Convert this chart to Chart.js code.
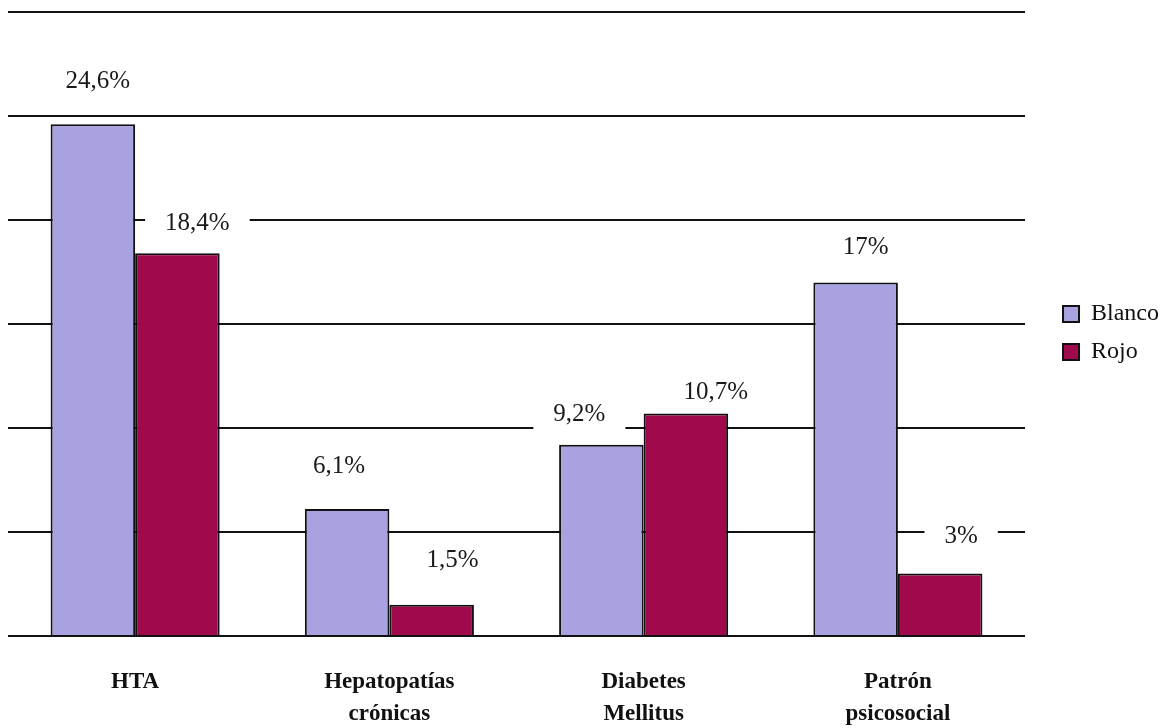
<!DOCTYPE html>
<html>
<head>
<meta charset="utf-8">
<script src="https://cdn.jsdelivr.net/npm/chart.js@4/dist/chart.umd.min.js"></script>
<style>
  html, body { margin: 0; padding: 0; background: #fff; }
  #wrap { width: 1167px; height: 728px; position: relative; }
</style>
</head>
<body>
<div id="wrap"><canvas id="c" width="1167" height="728"></canvas></div>
<script>
// ---- data ----
const categories = [["HTA"], ["Hepatopatías", "crónicas"], ["Diabetes", "Mellitus"], ["Patrón", "psicosocial"]];
const seriesNames = ["Blanco", "Rojo"];
const blanco = [24.6, 6.1, 9.2, 17];
const rojo = [18.4, 1.5, 10.7, 3];
const blancoLabels = ["24,6%", "6,1%", "9,2%", "17%"];
const rojoLabels = ["18,4%", "1,5%", "10,7%", "3%"];
const yMax = 30;
const yStep = 5;

// label placement nudges (style, relative to bar top)
const labelNudge = [
  [{dx: 5, dy: 43}, {dx: -8, dy: 43}, {dx: -22, dy: 30}, {dx: 10, dy: 35}],
  [{dx: 20, dy: 30}, {dx: 21, dy: 44}, {dx: 30, dy: 21}, {dx: 21, dy: 37}]
];
const labelTexts = [blancoLabels, rojoLabels];
const serif = '"Liberation Serif", "DejaVu Serif", serif';

const labelPlugin = {
  id: 'boxLabels',
  afterLayout(chart) {
    const lg = chart.legend;
    if (lg) {
      lg.left += 24; lg.right += 24;
      lg.top -= 37; lg.bottom -= 37;
    }
  },
  afterDatasetsDraw(chart) {
    const ctx = chart.ctx;
    ctx.save();
    ctx.font = '25px ' + serif;
    ctx.textAlign = 'center';
    ctx.textBaseline = 'middle';
    chart.data.datasets.forEach((ds, di) => {
      const meta = chart.getDatasetMeta(di);
      meta.data.forEach((bar, i) => {
        const n = labelNudge[di][i];
        const x = bar.x + n.dx;
        const y = bar.y - n.dy;
        const t = labelTexts[di][i];
        const w = ctx.measureText(t).width;
        ctx.fillStyle = '#ffffff';
        ctx.fillRect(x - w / 2 - 20, y - 16, w + 40, 32);
        ctx.fillStyle = '#1a1a1a';
        ctx.fillText(t, x, y);
      });
    });
    ctx.restore();
  }
};

new Chart(document.getElementById('c'), {
  type: 'bar',
  data: {
    labels: categories,
    datasets: [
      { label: seriesNames[0], data: blanco, backgroundColor: '#a9a2e0', borderColor: '#111', borderWidth: 2 },
      { label: seriesNames[1], data: rojo, backgroundColor: '#a0094b', borderColor: '#111', borderWidth: 2 }
    ]
  },
  options: {
    responsive: false,
    animation: false,
    devicePixelRatio: 1,
    layout: { padding: { left: 8, top: 12, right: 22, bottom: 0 } },
    datasets: { bar: { categoryPercentage: 0.665, barPercentage: 1.0 } },
    scales: {
      x: {
        grid: { display: false, drawTicks: false },
        border: { display: false },
        afterFit(scale) { scale.height = 92; },
        ticks: {
          color: '#111',
          padding: 30,
          maxRotation: 0,
          font: { family: serif, size: 23, weight: 'bold', lineHeight: 1.4 }
        }
      },
      y: {
        min: 0, max: yMax,
        ticks: { display: false, stepSize: yStep },
        grid: { color: '#111', lineWidth: 2, drawTicks: false },
        border: { display: false }
      }
    },
    plugins: {
      legend: {
        position: 'right',
        labels: {
          color: '#111',
          boxWidth: 16, boxHeight: 16,
          padding: 14,
          font: { family: serif, size: 24 }
        }
      },
      tooltip: { enabled: false }
    }
  },
  plugins: [labelPlugin]
});
</script>
</body>
</html>
